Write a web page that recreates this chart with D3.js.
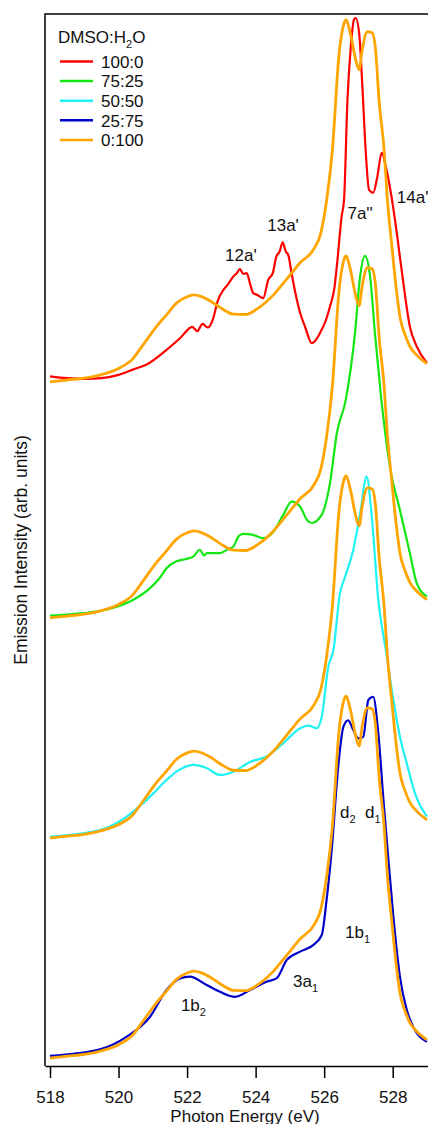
<!DOCTYPE html>
<html>
<head>
<meta charset="utf-8">
<script src="https://cdn.jsdelivr.net/npm/d3@7"></script>
<style>
  body { margin: 0; background: #fff; }
  svg text { font-family: "Liberation Sans", Arial, sans-serif; fill: #111; }
</style>
</head>
<body>
<div id="chart"></div>
<script>
// x-ray emission spectra, [photon energy (eV), intensity (arb. units)]
const water = [
  [518.0, 0.0], [518.5, 0.005], [519.0, 0.01], [519.5, 0.02], [520.0, 0.037], [520.4, 0.062],
  [520.7, 0.10], [521.1, 0.152], [521.4, 0.185], [521.7, 0.218], [522.0, 0.235], [522.2, 0.240],
  [522.4, 0.236], [522.7, 0.222], [523.0, 0.203], [523.35, 0.187], [523.7, 0.186], [524.1, 0.205],
  [524.5, 0.238], [524.9, 0.283], [525.3, 0.329], [525.7, 0.367], [525.9, 0.41], [526.07, 0.50],
  [526.24, 0.64], [526.43, 0.90], [526.58, 0.99], [526.63, 1.0], [526.77, 0.96], [526.92, 0.89],
  [527.02, 0.862], [527.11, 0.917], [527.26, 0.967], [527.4, 0.964], [527.5, 0.917], [527.6, 0.78],
  [527.75, 0.64], [527.84, 0.51], [527.97, 0.38], [528.1, 0.26], [528.21, 0.18], [528.36, 0.13],
  [528.5, 0.098], [528.7, 0.074], [529.0, 0.05]
];
const dmso100 = [
  [518.0, 0.015], [518.5, 0.010], [519.0, 0.008], [519.5, 0.010], [520.0, 0.019], [520.4, 0.033],
  [520.9, 0.052], [521.4, 0.088], [521.8, 0.121], [522.15, 0.152], [522.3, 0.140], [522.45, 0.160],
  [522.6, 0.150], [522.75, 0.172], [522.9, 0.225], [523.06, 0.254], [523.2, 0.27], [523.35, 0.291],
  [523.45, 0.30], [523.54, 0.311], [523.64, 0.298], [523.74, 0.30], [523.84, 0.27], [523.93, 0.245],
  [524.05, 0.24], [524.22, 0.231], [524.37, 0.282], [524.5, 0.30], [524.6, 0.345], [524.7, 0.36],
  [524.79, 0.385], [524.88, 0.36], [524.95, 0.351], [525.05, 0.30], [525.15, 0.25], [525.3, 0.19],
  [525.45, 0.15], [525.64, 0.107], [525.75, 0.115], [525.88, 0.135], [526.05, 0.17], [526.17, 0.208],
  [526.3, 0.26], [526.37, 0.319], [526.51, 0.457], [526.58, 0.503], [526.68, 0.779], [526.77, 0.917],
  [526.87, 1.0], [526.92, 1.005], [527.02, 0.964], [527.11, 0.826], [527.21, 0.641], [527.31, 0.530],
  [527.43, 0.522], [527.55, 0.566], [527.68, 0.633], [527.8, 0.594], [527.95, 0.52], [528.12, 0.411],
  [528.31, 0.273], [528.5, 0.153], [528.7, 0.098], [529.0, 0.052]
];
const dmso75 = [
  [518.0, 0.006], [518.97, 0.013], [519.46, 0.019], [519.95, 0.031], [520.43, 0.050], [520.92, 0.082],
  [521.2, 0.11], [521.4, 0.137], [521.69, 0.156], [521.95, 0.162], [522.18, 0.169], [522.37, 0.188],
  [522.5, 0.172], [522.57, 0.179], [522.96, 0.179], [523.2, 0.19], [523.35, 0.197], [523.5, 0.225],
  [523.64, 0.232], [523.93, 0.229], [524.22, 0.220], [524.52, 0.238], [524.81, 0.285], [525.05, 0.321],
  [525.3, 0.307], [525.5, 0.27], [525.64, 0.262], [525.93, 0.285], [526.17, 0.372], [526.37, 0.510],
  [526.63, 0.602], [526.9, 0.787], [527.05, 0.944], [527.19, 1.0], [527.34, 0.944], [527.48, 0.787],
  [527.65, 0.62], [527.92, 0.417], [528.21, 0.298], [528.5, 0.179], [528.7, 0.096], [529.0, 0.059]
];
const dmso50 = [
  [518.0, 0.004], [519.46, 0.022], [520.24, 0.059], [520.92, 0.114], [521.4, 0.160], [521.69, 0.183],
  [522.18, 0.202], [522.57, 0.193], [522.96, 0.174], [523.35, 0.183], [523.84, 0.210], [524.32, 0.225],
  [524.81, 0.262], [525.3, 0.303], [525.55, 0.31], [525.78, 0.303], [525.93, 0.335], [526.12, 0.473],
  [526.27, 0.519], [526.46, 0.675], [526.61, 0.721], [526.85, 0.796], [527.05, 0.897], [527.24, 0.998],
  [527.39, 0.887], [527.58, 0.657], [527.8, 0.519], [528.02, 0.381], [528.21, 0.280], [528.41, 0.206],
  [528.65, 0.123], [529.0, 0.059]
];
const dmso25 = [
  [518.0, 0.006], [519.46, 0.024], [520.24, 0.059], [520.92, 0.114], [521.4, 0.188], [521.79, 0.220],
  [522.08, 0.225], [522.57, 0.202], [522.96, 0.183], [523.4, 0.169], [523.84, 0.188], [524.32, 0.211],
  [524.61, 0.220], [524.91, 0.271], [525.3, 0.294], [525.68, 0.312], [525.93, 0.340], [526.07, 0.436],
  [526.22, 0.575], [526.41, 0.805], [526.56, 0.915], [526.70, 0.933], [526.85, 0.906], [527.00, 0.883],
  [527.14, 0.887], [527.29, 0.989], [527.43, 0.998], [527.58, 0.897], [527.73, 0.713], [527.85, 0.575],
  [528.02, 0.390], [528.21, 0.225], [528.41, 0.133], [528.65, 0.077], [529.0, 0.045]
];

const ratios = ["100:0", "75:25", "50:50", "25:75", "0:100"];
const colors = ["#ff0000", "#14e614", "#1ff2f2", "#0000c8", "#ffa500"];
const spectra = [dmso100, dmso75, dmso50, dmso25];
const offsets = [1.890, 1.238, 0.630, 0.022]; // vertical stacking of the panels
const xTicks = [518, 520, 522, 524, 526, 528];

// peak labels: [text, subscript, energy, intensity, anchor]
const peaks = [
  ["12a'", "", 523.57, 2.224, "middle"],
  ["13a'", "", 524.80, 2.307, "middle"],
  ["7a''", "", 527.05, 2.340, "middle"],
  ["14a'", "", 528.12, 2.384, "start"],
  ["d", "2", 526.46, 0.685, "start"],
  ["d", "1", 527.19, 0.685, "start"],
  ["1b", "1", 526.61, 0.354, "start"],
  ["3a", "1", 525.09, 0.218, "start"],
  ["1b", "2", 521.82, 0.152, "start"]
];

const width = 428, height = 1124,
      margin = ({top: 14, right: 0, bottom: 58, left: 45});

let svg = d3.select("#chart")
    .append("svg")
    .attr("width", width)
    .attr("height", height);

let x = d3.scaleLinear()
    .domain([517.854, 529.03])
    .range([margin.left, width - margin.right]);

let y = d3.scaleLinear()
    .domain([0, 2.906])
    .range([height - margin.bottom, margin.top]);

svg.append("clipPath").attr("id", "plot")
  .append("rect")
    .attr("x", margin.left).attr("y", 0)
    .attr("width", width - margin.left)
    .attr("height", height - margin.bottom);

const line = off => d3.line()
    .x(d => x(d[0]))
    .y(d => y(d[1] + off))
    .curve(d3.curveMonotoneX);

let curves = svg.append("g").attr("clip-path", "url(#plot)");

spectra.forEach((s, i) => {
  curves.append("path")
      .datum(s)
      .attr("fill", "none")
      .attr("stroke", colors[i])
      .attr("stroke-width", 2.2)
      .attr("stroke-linejoin", "round")
      .attr("d", line(offsets[i]));
  // pure water reference on top of every panel
  curves.append("path")
      .datum(water)
      .attr("fill", "none")
      .attr("stroke", colors[4])
      .attr("stroke-width", 2.8)
      .attr("stroke-linejoin", "round")
      .attr("d", line(offsets[i]));
});

// frame: left and top
svg.append("path")
    .attr("d", `M${margin.left},${height - margin.bottom}V${margin.top}H${width}`)
    .attr("fill", "none")
    .attr("stroke", "#000")
    .attr("stroke-width", 1.5);

const xAxis = g => g
    .attr("transform", `translate(0,${height - margin.bottom})`)
    .call(d3.axisBottom(x).tickValues(xTicks).tickFormat(d3.format("d"))
        .tickSize(12).tickSizeOuter(0).tickPadding(13));

let gx = svg.append("g").call(xAxis);
gx.selectAll("path, line").attr("stroke", "#000").attr("stroke-width", 1.5);
gx.selectAll("text").attr("font-size", 17).attr("fill", "#111")
    .attr("font-family", "Liberation Sans, Arial, sans-serif");

svg.append("text")
    .attr("x", 245).attr("y", 1121.5)
    .attr("text-anchor", "middle")
    .attr("font-size", 17)
    .text("Photon Energy (eV)");

svg.append("text")
    .attr("transform", "rotate(-90)")
    .attr("x", -550).attr("y", 27)
    .attr("text-anchor", "middle")
    .attr("font-size", 17.5)
    .text("Emission Intensity (arb. units)");

// peak labels
peaks.forEach(p => {
  let t = svg.append("text")
      .attr("x", x(p[2])).attr("y", y(p[3]))
      .attr("text-anchor", p[4])
      .attr("font-size", 17);
  t.append("tspan").text(p[0]);
  if (p[1]) t.append("tspan").attr("font-size", 11).attr("dy", 5).text(p[1]);
});

// legend
let legend = svg.append("g").attr("transform", "translate(58,43)");
let title = legend.append("text").attr("font-size", 17);
title.append("tspan").text("DMSO:H");
title.append("tspan").attr("font-size", 11).attr("dy", 5).text("2");
title.append("tspan").attr("dy", -5).text("O");

ratios.forEach((r, i) => {
  let row = legend.append("g").attr("transform", `translate(0,${18.5 + i * 19.6})`);
  row.append("line")
      .attr("x1", 2).attr("x2", 35)
      .attr("stroke", colors[i]).attr("stroke-width", 2.5);
  row.append("text")
      .attr("x", 43).attr("y", 6.3)
      .attr("font-size", 17)
      .text(r);
});
</script>
</body>
</html>
